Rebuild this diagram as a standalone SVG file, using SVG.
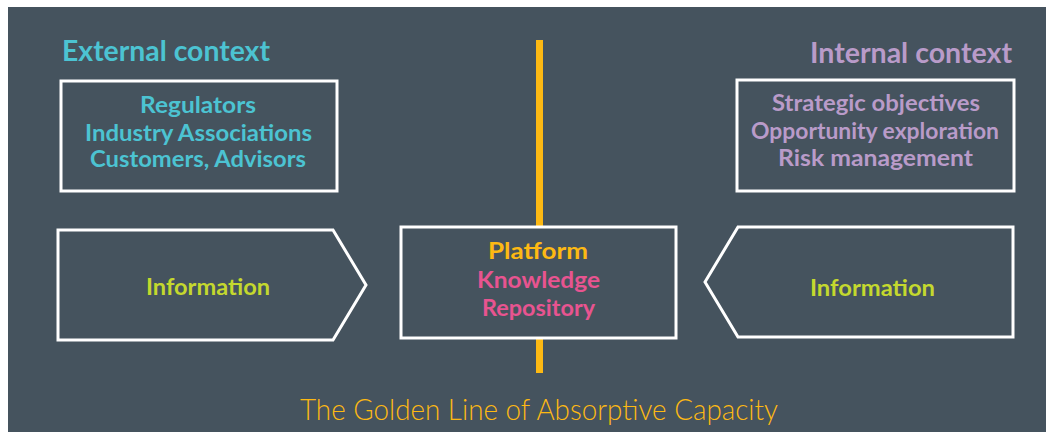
<svg xmlns="http://www.w3.org/2000/svg" width="1046" height="432" viewBox="0 0 1046 432">
<style>
.bg{fill:#45535e}
.box{fill:#45535e;stroke:#ffffff;stroke-width:3}
.t{font-family:"Lato","Noto Sans","Liberation Sans",sans-serif;font-weight:bold;text-anchor:middle}
.title{font-size:28px}
.item{font-size:22px}
.cy{fill:#4cc3d2}
.li{fill:#b99bc9}
.lm{fill:#c4d82e}
.ye{fill:#fdb913}
.pk{fill:#e85490}
.cap{font-family:"Lato","Noto Sans","Liberation Sans",sans-serif;font-weight:300;font-size:29px;fill:#fdb913}
</style>
<rect x="0" y="0" width="1046" height="432" fill="#ffffff"/>
<rect class="bg" x="8" y="7" width="1038" height="425"/>
<g id="connectors">
<rect id="golden-line" x="536" y="40" width="7" height="333" fill="#fdb913"/>
</g>
<g id="external-title">
<text class="t title cy" x="166" y="61" textLength="208" lengthAdjust="spacingAndGlyphs">External context</text>
</g>
<g id="external-box">
<rect class="box" x="61" y="81" width="276" height="110"/>
<text class="t item cy" x="198" y="113" textLength="116" lengthAdjust="spacingAndGlyphs">Regulators</text>
<text class="t item cy" x="198.5" y="141" textLength="227" lengthAdjust="spacingAndGlyphs">Industry Associations</text>
<text class="t item cy" x="198" y="167" textLength="216" lengthAdjust="spacingAndGlyphs">Customers, Advisors</text>
</g>
<g id="internal-title">
<text class="t title li" x="911" y="63" textLength="202" lengthAdjust="spacingAndGlyphs">Internal context</text>
</g>
<g id="internal-box">
<rect class="box" x="737" y="80" width="277" height="111"/>
<text class="t item li" x="876" y="111" textLength="208" lengthAdjust="spacingAndGlyphs">Strategic objectives</text>
<text class="t item li" x="875" y="139" textLength="248" lengthAdjust="spacingAndGlyphs">Opportunity exploration</text>
<text class="t item li" x="875.5" y="166" textLength="195" lengthAdjust="spacingAndGlyphs">Risk management</text>
</g>
<g id="info-left">
<polygon class="box" points="58,230 333,230 366,285 333,340 58,340"/>
<text class="t item lm" x="208" y="295" textLength="124" lengthAdjust="spacingAndGlyphs">Information</text>
</g>
<g id="platform">
<rect class="box" x="401" y="227" width="275" height="111"/>
<text class="t item ye" x="538" y="259" textLength="100" lengthAdjust="spacingAndGlyphs">Platform</text>
<text class="t item pk" x="538.5" y="288" textLength="123" lengthAdjust="spacingAndGlyphs">Knowledge</text>
<text class="t item pk" x="538.5" y="316" textLength="113" lengthAdjust="spacingAndGlyphs">Repository</text>
</g>
<g id="info-right">
<polygon class="box" points="1013,227 738,227 705,282 738,337 1013,337"/>
<text class="t item lm" x="872.5" y="296" textLength="125" lengthAdjust="spacingAndGlyphs">Information</text>
</g>
<g id="caption">
<text class="cap" x="300" y="420" textLength="478" lengthAdjust="spacingAndGlyphs">The Golden Line of Absorptive Capacity</text>
</g>
</svg>
